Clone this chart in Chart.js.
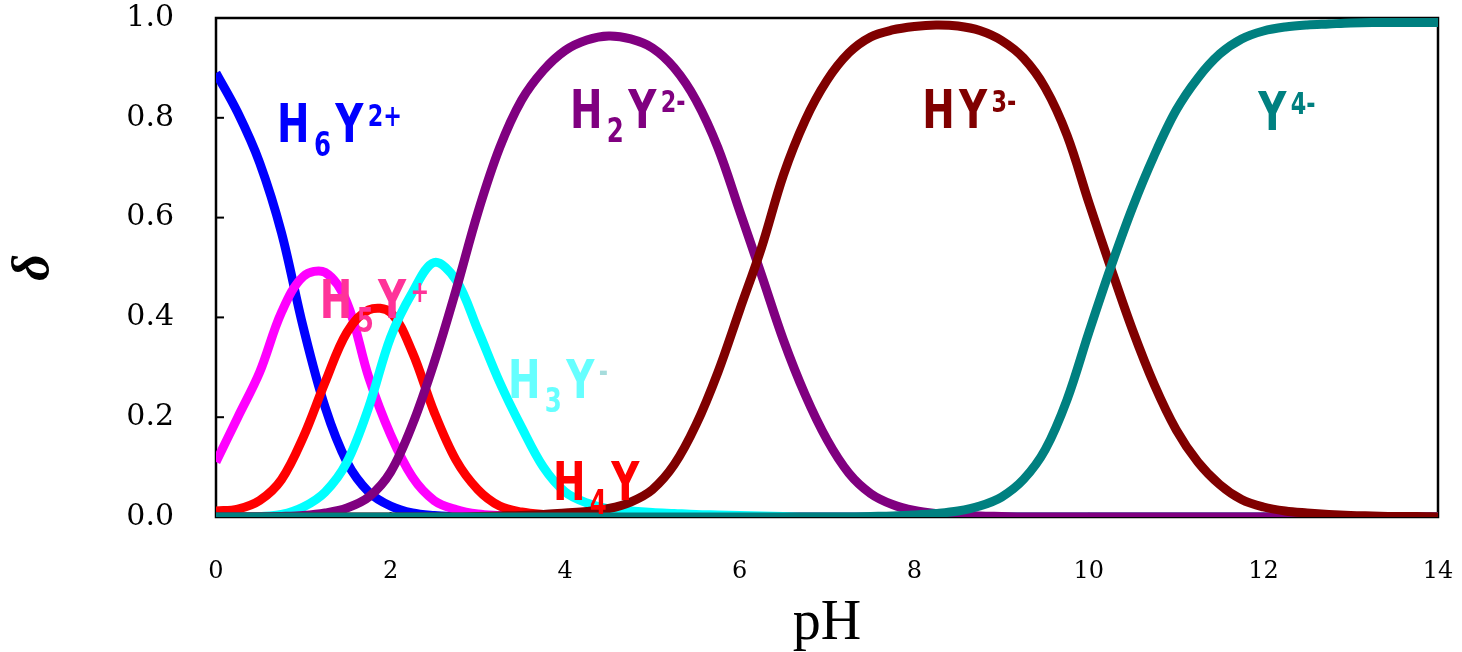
<!DOCTYPE html>
<html>
<head>
<meta charset="utf-8">
<script src="https://cdn.jsdelivr.net/npm/chart.js@4.4.1/dist/chart.umd.min.js"></script>
<style>
body { margin: 0; background: #fff; }
canvas { display: block; }
</style>
</head>
<body>
<canvas id="edtaChart" width="1462" height="652"></canvas>
<script>
// pH grid, 0.25 steps (one row = one pH unit)
const pH = [
0, 0.25, 0.5, 0.75,  1, 1.25, 1.5, 1.75,  2, 2.25, 2.5, 2.75,  3, 3.25, 3.5, 3.75,
4, 4.25, 4.5, 4.75,  5, 5.25, 5.5, 5.75,  6, 6.25, 6.5, 6.75,  7, 7.25, 7.5, 7.75,
8, 8.25, 8.5, 8.75,  9, 9.25, 9.5, 9.75,  10, 10.25, 10.5, 10.75,  11, 11.25, 11.5, 11.75,
12, 12.25, 12.5, 12.75,  13, 13.25, 13.5, 13.75,  14
];

const h6y = [
0.89, 0.81, 0.71, 0.57,  0.38, 0.22, 0.11, 0.05,  0.022, 0.008, 0.003, 0.001,  0, 0, 0, 0,
0, 0, 0, 0,  0, 0, 0, 0,  0, 0, 0, 0,  0, 0, 0, 0,
0, 0, 0, 0,  0, 0, 0, 0,  0, 0, 0, 0,  0, 0, 0, 0,
0, 0, 0, 0,  0, 0, 0, 0,  0
];
const h5y = [
0.11, 0.20, 0.29, 0.41,  0.482, 0.49, 0.43, 0.28,  0.165, 0.08, 0.033, 0.015,  0.006, 0.003, 0.001, 0,
0, 0, 0, 0,  0, 0, 0, 0,  0, 0, 0, 0,  0, 0, 0, 0,
0, 0, 0, 0,  0, 0, 0, 0,  0, 0, 0, 0,  0, 0, 0, 0,
0, 0, 0, 0,  0, 0, 0, 0,  0
];
const h4y = [
0.012, 0.016, 0.033, 0.075,  0.16, 0.27, 0.37, 0.415,  0.41, 0.33, 0.21, 0.114,  0.055, 0.022, 0.01, 0.005,
0.003, 0.001, 0, 0,  0, 0, 0, 0,  0, 0, 0, 0,  0, 0, 0, 0,
0, 0, 0, 0,  0, 0, 0, 0,  0, 0, 0, 0,  0, 0, 0, 0,
0, 0, 0, 0,  0, 0, 0, 0,  0
];
const h3y = [
0, 0, 0.001, 0.005,  0.02, 0.05, 0.11, 0.22,  0.36, 0.45, 0.51, 0.475,  0.375, 0.27, 0.18, 0.10,
0.05, 0.028, 0.016, 0.012,  0.009, 0.007, 0.005, 0.004,  0.003, 0.002, 0.001, 0,  0, 0, 0, 0,
0, 0, 0, 0,  0, 0, 0, 0,  0, 0, 0, 0,  0, 0, 0, 0,
0, 0, 0, 0,  0, 0, 0, 0,  0
];
const h2y = [
0, 0, 0, 0.001,  0.003, 0.008, 0.018, 0.04,  0.09, 0.185, 0.31, 0.455,  0.61, 0.74, 0.835, 0.895,
0.935, 0.956, 0.964, 0.958,  0.94, 0.9, 0.835, 0.74,  0.613, 0.485, 0.355, 0.245,  0.155, 0.088, 0.047, 0.025,
0.013, 0.007, 0.004, 0.002,  0.001, 0, 0, 0,  0, 0, 0, 0,  0, 0, 0, 0,
0, 0, 0, 0,  0, 0, 0, 0,  0
];
const hy = [
0, 0, 0, 0,  0, 0, 0, 0,  0, 0, 0, 0,  0.001, 0.002, 0.003, 0.005,
0.008, 0.011, 0.017, 0.03,  0.055, 0.105, 0.185, 0.29,  0.415, 0.54, 0.685, 0.795,  0.875, 0.93, 0.962, 0.976,
0.983, 0.986, 0.984, 0.975,  0.955, 0.92, 0.86, 0.765,  0.63, 0.5, 0.375, 0.265,  0.175, 0.11, 0.065, 0.035,
0.02, 0.012, 0.008, 0.005,  0.003, 0.002, 0.001, 0.001,  0
];
const y4 = [
0, 0, 0, 0,  0, 0, 0, 0,  0, 0, 0, 0,  0, 0, 0, 0,
0, 0, 0, 0,  0, 0, 0, 0,  0, 0, 0, 0,  0, 0, 0.001, 0.002,
0.004, 0.007, 0.012, 0.022,  0.04, 0.075, 0.135, 0.235,  0.37, 0.5, 0.62, 0.725,  0.815, 0.88, 0.928, 0.958,
0.974, 0.982, 0.986, 0.988,  0.99, 0.991, 0.991, 0.991,  0.991
];

// species text labels: anchor = [pH, delta] of left end / baseline
const speciesLabels = [
  { at: [0.70, 0.752], color: '#0000ff', parts: [['H'], ['6', 'sub'], ['Y'], ['2+', 'sup']] },
  { at: [1.19, 0.399], color: '#ff3399', parts: [['H'], ['5', 'sub'], ['Y'], ['+', 'sup']] },
  { at: [3.345, 0.238], color: '#66ffff', parts: [['H'], ['3', 'sub'], ['Y'], ['-', 'sup', '#a6dcdc']] },
  { at: [3.86, 0.034], color: '#ff0000', parts: [['H'], ['4', 'sub'], ['Y']] },
  { at: [4.055, 0.78], color: '#800080', parts: [['H'], ['2', 'sub'], ['Y'], ['2-', 'sup']] },
  { at: [8.09, 0.78], color: '#800000', parts: [['H'], ['Y'], ['3-', 'sup']] },
  { at: [11.94, 0.776], color: '#008080', parts: [['Y'], ['4-', 'sup']] }
];

function series(vals) {
  return pH.map((p, i) => ({ x: p, y: vals[i] }));
}

function line(label, vals, color, order) {
  return {
    label: label,
    data: series(vals),
    borderColor: color,
    borderWidth: 9,
    pointRadius: 0,
    tension: 0.35,
    fill: false,
    order: order
  };
}

const framePlugin = {
  id: 'frame',
  beforeDatasetsDraw(chart) {
    const { ctx, chartArea: a, scales: { x, y } } = chart;
    ctx.save();
    ctx.strokeStyle = '#000';
    ctx.lineWidth = 2.5;
    ctx.strokeRect(a.left, a.top, a.right - a.left, a.bottom - a.top);
    ctx.lineWidth = 2;
    y.ticks.forEach(t => {
      const py = y.getPixelForValue(t.value);
      ctx.beginPath(); ctx.moveTo(a.left, py); ctx.lineTo(a.left + 8, py); ctx.stroke();
    });
    x.ticks.forEach(t => {
      const px = x.getPixelForValue(t.value);
      ctx.beginPath(); ctx.moveTo(px, a.bottom); ctx.lineTo(px, a.bottom - 5); ctx.stroke();
    });
    ctx.restore();
  }
};

const labelPlugin = {
  id: 'speciesLabels',
  afterDatasetsDraw(chart) {
    const { ctx, scales: { x, y } } = chart;
    speciesLabels.forEach(l => {
      ctx.save();
      ctx.translate(x.getPixelForValue(l.at[0]), y.getPixelForValue(l.at[1]));
      ctx.scale(0.72, 1);
      ctx.textAlign = 'left';
      ctx.textBaseline = 'alphabetic';
      let cx = 0;
      l.parts.forEach(([t, kind, col]) => {
        if (kind === 'sub') ctx.font = 'bold 34px "DejaVu Sans", sans-serif';
        else if (kind === 'sup') ctx.font = 'bold 31px "DejaVu Sans", sans-serif';
        else ctx.font = 'bold 54px "DejaVu Sans", sans-serif';
        ctx.fillStyle = col || l.color;
        const dy = kind === 'sub' ? 14 : kind === 'sup' ? -16 : 0;
        ctx.fillText(t, cx, dy);
        cx += ctx.measureText(t).width + 6;
      });
      ctx.restore();
    });
  }
};

function noPad(s) {
  s.paddingTop = 0; s.paddingBottom = 0; s.paddingLeft = 0; s.paddingRight = 0;
}

const ctx = document.getElementById('edtaChart').getContext('2d');
new Chart(ctx, {
  type: 'line',
  data: {
    datasets: [
      line('H6Y2+', h6y, '#0000ff', 6),
      line('H5Y+', h5y, '#ff00ff', 5),
      line('H4Y', h4y, '#ff0000', 4),
      line('H3Y-', h3y, '#00ffff', 3),
      line('H2Y2-', h2y, '#800080', 2),
      line('HY3-', hy, '#800000', 1),
      line('Y4-', y4, '#008080', 0)
    ]
  },
  options: {
    responsive: false,
    animation: false,
    devicePixelRatio: 1,
    layout: { padding: { top: 18, right: 24, left: 0, bottom: 0 } },
    plugins: { legend: { display: false }, tooltip: { enabled: false } },
    scales: {
      x: {
        type: 'linear',
        min: 0,
        max: 14,
        grid: { display: false, drawTicks: false },
        border: { display: false },
        ticks: {
          stepSize: 2,
          padding: 40,
          color: '#000',
          font: { family: '"DejaVu Serif", serif', size: 24 }
        },
        title: {
          display: true,
          text: 'pH',
          color: '#000',
          padding: 0,
          font: { family: '"Liberation Serif", serif', size: 56, lineHeight: 1 }
        },
        afterFit: s => { s.height = 135; noPad(s); }
      },
      y: {
        min: 0,
        max: 1,
        grid: { display: false, drawTicks: false },
        border: { display: false },
        ticks: {
          stepSize: 0.2,
          padding: 42,
          color: '#000',
          font: { family: '"DejaVu Serif", serif', size: 30 },
          callback: v => v.toFixed(1)
        },
        title: {
          display: true,
          text: 'δ',
          color: '#000',
          padding: { top: 9, bottom: 0 },
          font: { family: '"Liberation Serif", serif', size: 52, style: 'italic', weight: 'bold', lineHeight: 1 }
        },
        afterFit: s => { s.width = 216; noPad(s); }
      }
    }
  },
  plugins: [framePlugin, labelPlugin]
});
</script>
</body>
</html>
